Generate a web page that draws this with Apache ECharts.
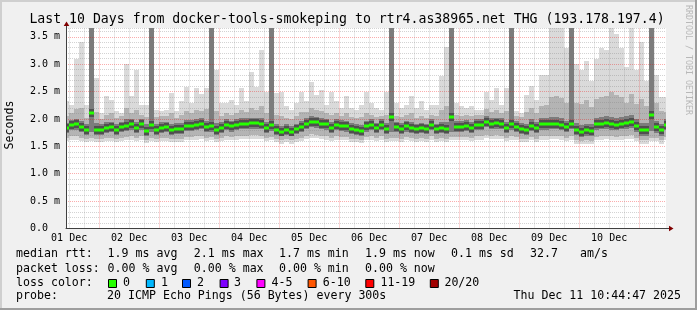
<!DOCTYPE html>
<html><head><meta charset="utf-8">
<script src="https://cdn.jsdelivr.net/npm/echarts@6/dist/echarts.min.js"></script>
<style>html,body{margin:0;padding:0;background:#f0f0f0}#c{width:697px;height:310px}</style>
</head><body><div id="c"></div>
<script>
// ---------------- DATA ----------------
const TITLE = 'Last 10 Days from docker-tools-smokeping to rtr4.as38965.net THG (193.178.197.4)';
// time axis in hours after 01 Dec 00:00
const VIEW_START = 10.746;   // 01 Dec 10:44:47
const VIEW_END = 250.746;    // 11 Dec 10:44:47
const BIN_START = 10;        // first consolidated bin starts at 01 Dec 10:00
const BIN_HOURS = 2;

const medianRtt = [1.83,1.89,1.90,1.85,1.79,2.10,1.79,1.80,1.84,1.85,
1.80,1.86,1.88,1.90,1.84,1.90,1.78,1.89,1.80,1.84,
1.85,1.79,1.82,1.81,1.88,1.88,1.89,1.91,1.86,1.88,
1.79,1.84,1.89,1.87,1.89,1.91,1.91,1.92,1.92,1.91,
1.84,1.89,1.80,1.77,1.80,1.77,1.81,1.86,1.91,1.95,
1.94,1.91,1.90,1.84,1.89,1.88,1.87,1.82,1.80,1.78,
1.87,1.89,1.83,1.89,1.82,2.04,1.85,1.82,1.87,1.84,
1.81,1.83,1.81,1.89,1.81,1.83,1.82,2.04,1.86,1.86,
1.88,1.84,1.89,1.89,1.95,1.91,1.92,1.91,1.84,1.90,
1.86,1.82,1.80,1.88,1.83,1.90,1.90,1.91,1.91,1.89,
1.85,1.91,1.80,1.77,1.79,1.78,1.90,1.91,1.92,1.90,
1.89,1.91,1.92,1.94,1.87,1.79,1.79,2.07,1.85,1.79,1.89];

const smokeMax = [2.32,2.26,3.10,3.41,2.26,3.80,2.75,2.10,2.41,2.35,
2.14,2.10,3.00,2.41,2.90,2.26,2.26,3.80,2.17,2.14,
2.17,2.47,2.14,2.32,2.59,2.30,2.56,2.45,2.56,3.80,
2.90,2.29,2.29,2.35,2.26,2.56,2.32,2.86,2.59,3.26,
2.50,3.80,2.47,2.50,2.23,2.17,2.30,2.50,2.32,2.68,
2.44,2.52,2.26,2.50,2.32,2.20,2.41,2.20,2.17,2.26,
2.50,2.29,2.20,2.17,2.50,3.80,2.29,2.20,2.25,2.41,
2.20,2.32,2.17,2.26,2.26,2.78,3.32,3.80,2.29,2.23,
2.20,2.23,2.17,2.17,2.50,2.35,2.56,2.26,2.56,3.80,
2.15,2.10,2.44,2.60,2.35,2.81,2.81,3.80,3.80,3.80,
3.30,3.80,3.00,2.90,3.05,2.70,3.10,3.30,3.25,3.80,
3.55,3.30,2.95,3.80,2.90,3.40,2.70,3.80,2.80,2.40,2.40];

const smokeP90 = [2.06,2.10,2.18,2.20,2.02,3.80,2.12,2.00,2.08,2.10,
2.02,2.05,2.20,2.10,2.16,2.08,2.04,3.80,2.03,2.06,
2.05,2.10,2.02,2.08,2.15,2.10,2.16,2.14,2.18,3.80,
2.14,2.05,2.10,2.08,2.10,2.16,2.12,2.20,2.16,2.24,
2.10,3.80,2.08,2.06,2.02,2.00,2.06,2.12,2.12,2.20,
2.16,2.14,2.10,2.08,2.10,2.06,2.10,2.04,2.02,2.04,
2.10,2.08,2.04,2.06,2.08,3.80,2.06,2.04,2.08,2.10,
2.02,2.06,2.02,2.08,2.06,2.16,2.24,3.80,2.08,2.06,
2.08,2.06,2.08,2.08,2.18,2.12,2.16,2.10,2.14,3.80,
2.06,2.04,2.12,2.20,2.10,2.24,2.26,2.40,2.42,2.38,
2.30,3.80,2.30,2.28,2.34,2.22,2.36,2.40,2.42,2.50,
2.44,2.40,2.30,2.46,2.28,2.36,2.24,3.80,2.30,2.14,2.12];

const smokeQ3 = [1.93,1.98,2.00,1.96,1.90,3.80,1.92,1.90,1.94,1.95,
1.90,1.95,1.99,1.99,1.95,1.99,1.90,3.80,1.90,1.94,
1.95,1.90,1.92,1.92,1.98,1.98,1.99,2.01,1.97,3.80,
1.92,1.94,1.99,1.97,1.99,2.01,2.01,2.02,2.02,2.02,
1.95,3.80,1.91,1.88,1.90,1.87,1.91,1.96,2.01,2.05,
2.04,2.01,2.00,1.95,1.99,1.98,1.97,1.92,1.90,1.89,
1.97,1.99,1.93,1.99,1.93,3.80,1.95,1.92,1.97,1.95,
1.91,1.93,1.91,1.99,1.91,1.94,1.94,3.80,1.96,1.96,
1.98,1.94,1.99,1.99,2.05,2.01,2.02,2.01,1.95,3.80,
1.96,1.92,1.91,1.99,1.94,2.01,2.02,2.04,2.04,2.01,
1.97,3.80,1.92,1.89,1.91,1.90,2.02,2.03,2.05,2.04,
2.02,2.04,2.05,2.07,2.00,1.92,1.92,3.80,1.97,1.91,1.99];

const smokeQ1 = [1.74,1.79,1.80,1.76,1.70,1.76,1.70,1.71,1.75,1.76,
1.71,1.76,1.78,1.80,1.75,1.80,1.69,1.76,1.71,1.75,
1.76,1.70,1.73,1.72,1.78,1.78,1.79,1.81,1.77,1.77,
1.70,1.75,1.79,1.77,1.79,1.81,1.81,1.82,1.82,1.81,
1.75,1.78,1.71,1.68,1.71,1.68,1.72,1.76,1.81,1.85,
1.84,1.81,1.80,1.75,1.79,1.78,1.77,1.73,1.71,1.69,
1.77,1.79,1.74,1.79,1.73,1.76,1.76,1.73,1.77,1.75,
1.72,1.74,1.72,1.79,1.72,1.74,1.73,1.77,1.77,1.77,
1.78,1.75,1.79,1.79,1.85,1.81,1.82,1.81,1.75,1.80,
1.77,1.73,1.71,1.78,1.74,1.80,1.80,1.81,1.81,1.79,
1.76,1.81,1.70,1.67,1.69,1.68,1.80,1.81,1.82,1.80,
1.79,1.81,1.82,1.84,1.77,1.69,1.69,1.78,1.75,1.69,1.79];

const smokeP10 = [1.66,1.68,1.68,1.66,1.63,1.66,1.63,1.64,1.66,1.66,
1.64,1.66,1.67,1.68,1.66,1.68,1.62,1.66,1.63,1.65,
1.66,1.63,1.64,1.64,1.67,1.67,1.68,1.69,1.66,1.67,
1.63,1.65,1.68,1.67,1.68,1.69,1.69,1.70,1.70,1.69,
1.66,1.67,1.63,1.61,1.63,1.61,1.64,1.66,1.69,1.72,
1.71,1.69,1.68,1.66,1.68,1.67,1.67,1.64,1.63,1.62,
1.67,1.68,1.65,1.68,1.64,1.66,1.66,1.64,1.67,1.65,
1.63,1.65,1.64,1.68,1.63,1.65,1.64,1.67,1.67,1.67,
1.67,1.66,1.68,1.68,1.71,1.69,1.70,1.69,1.66,1.68,
1.67,1.64,1.63,1.67,1.64,1.68,1.68,1.69,1.69,1.68,
1.65,1.68,1.61,1.60,1.61,1.60,1.67,1.68,1.69,1.68,
1.67,1.68,1.69,1.70,1.66,1.61,1.61,1.66,1.65,1.61,1.67];

const smokeMin = [1.60,1.62,1.62,1.60,1.57,1.60,1.57,1.58,1.60,1.60,
1.58,1.60,1.61,1.62,1.60,1.62,1.56,1.60,1.57,1.59,
1.60,1.57,1.58,1.58,1.61,1.61,1.62,1.63,1.60,1.61,
1.57,1.59,1.62,1.61,1.62,1.63,1.63,1.64,1.64,1.63,
1.60,1.61,1.57,1.55,1.57,1.55,1.58,1.60,1.63,1.66,
1.65,1.63,1.62,1.60,1.62,1.61,1.61,1.58,1.57,1.56,
1.61,1.62,1.59,1.62,1.58,1.60,1.60,1.58,1.61,1.59,
1.57,1.59,1.58,1.62,1.57,1.59,1.58,1.61,1.61,1.61,
1.61,1.60,1.62,1.62,1.65,1.63,1.64,1.63,1.60,1.62,
1.61,1.58,1.57,1.61,1.58,1.62,1.62,1.63,1.63,1.62,
1.59,1.62,1.55,1.54,1.55,1.54,1.61,1.62,1.63,1.62,
1.61,1.62,1.63,1.64,1.60,1.55,1.55,1.60,1.59,1.55,1.61];

const dayLabels = ['01 Dec','02 Dec','03 Dec','04 Dec','05 Dec','06 Dec','07 Dec','08 Dec','09 Dec','10 Dec'];
const dayLabelHours = [12,36,60,84,108,132,156,180,204,228];
const majorGridHours = [24,48,72,96,120,144,168,192,216,240];
const minorGridHours = [12,18,30,36,42,54,60,66,78,84,90,102,108,114,126,132,138,150,156,162,174,180,186,198,204,210,222,228,234,246];
const Y_MAX = 3.66;

const rttLabel = 'median rtt:';
const rttStats = ['1.9 ms avg','2.1 ms max','1.7 ms min','1.9 ms now','0.1 ms sd','32.7','am/s'];
const lossLabel = 'packet loss:';
const lossStats = ['0.00 % avg','0.00 % max','0.00 % min','0.00 % now'];
const lossColorLabel = 'loss color:';
const lossColorNames = ['0','1','2','3','4-5','6-10','11-19','20/20'];
const lossColorValues = ['#26ff00','#00b8ff','#0059ff','#7e00ff','#ff00ff','#ff5500','#ff0000','#a10000'];
const probeLabel = 'probe:';
const probeText = '20 ICMP Echo Pings (56 Bytes) every 300s';
const stampText = 'Thu Dec 11 10:44:47 2025';
const watermark = 'RRDTOOL / TOBI OETIKER';
const yTitle = 'Seconds';

// ---------------- LAYOUT ----------------
const FONT = "'DejaVu Sans Mono', monospace";
const G = {left: 66, right: 31, top: 28, bottom: 81.5};
const W = 697, H = 310;
const axisY = H - G.bottom, axisX = G.left + 0.5;

const bins = medianRtt.map((m, i) => [BIN_START + i * BIN_HOURS, smokeMin[i], smokeP10[i], smokeQ1[i], m, smokeQ3[i], smokeP90[i], smokeMax[i]]);

function clipR(x0, y0, x1, y1, cs) {
  return echarts.graphic.clipRectByRect({x: Math.min(x0,x1), y: Math.min(y0,y1), width: Math.abs(x1-x0), height: Math.abs(y1-y0)}, cs);
}

const smokeLayers = [[1, 7, '#dadada'], [2, 6, '#b4b4b4'], [3, 5, '#7c7c7c']];

const chart = echarts.init(document.getElementById('c'), null, {renderer: 'canvas'});

const textStyle = (t, x, y, size, extra) => Object.assign({type: 'text', x, y, silent: true,
  style: Object.assign({text: t, font: size + 'px ' + FONT, fill: '#000', verticalAlign: 'middle', align: 'left'}, extra || {})});

const rowY = [254.3, 268.7, 282.7, 296.3];
const statX = [107.6, 193.8, 279, 365, 451, 530, 580];
const boxX = [108, 145.8, 182, 219.6, 256.4, 307.6, 365.3, 429.8];
const boxLabelX = [123, 161, 197, 234, 271.6, 322.7, 380.4, 444.4];
const LF = 11.6;

const graphics = [
  {type: 'line', shape: {x1: 0, y1: 1, x2: W, y2: 1}, style: {stroke: '#cfcfcf', lineWidth: 2}, silent: true},
  {type: 'line', shape: {x1: 1, y1: 0, x2: 1, y2: H}, style: {stroke: '#cfcfcf', lineWidth: 2}, silent: true},
  {type: 'line', shape: {x1: 0, y1: H-1, x2: W, y2: H-1}, style: {stroke: '#9e9e9e', lineWidth: 2}, silent: true},
  {type: 'line', shape: {x1: W-1, y1: 0, x2: W-1, y2: H}, style: {stroke: '#9e9e9e', lineWidth: 2}, silent: true},
  textStyle(TITLE, 347, 19.4, 13.2, {align: 'center'}),
  Object.assign(textStyle(yTitle, 0, 0, LF, {align: 'center'}), {x: 10, y: 125, rotation: Math.PI/2}),
  Object.assign(textStyle(watermark, 0, 0, 8.3, {align: 'center', fill: '#b8b8b8'}), {x: 688, y: 60, rotation: -Math.PI/2}),
  // axis extensions and arrows
  {type: 'line', shape: {x1: axisX, y1: axisY, x2: axisX, y2: 24}, style: {stroke: '#404040', lineWidth: 1}, silent: true, z: 20},
  {type: 'line', shape: {x1: G.left, y1: axisY, x2: 670, y2: axisY}, style: {stroke: '#404040', lineWidth: 1}, silent: true, z: 20},
  {type: 'polygon', shape: {points: [[axisX, 21.5], [axisX - 2.8, 26], [axisX + 2.8, 26]]}, style: {fill: '#800000'}, silent: true, z: 21},
  {type: 'polygon', shape: {points: [[673.5, axisY], [669, axisY - 2.8], [669, axisY + 2.8]]}, style: {fill: '#800000'}, silent: true, z: 21},
  // legend
  textStyle(rttLabel, 16, rowY[0], LF),
  ...rttStats.map((s, i) => textStyle(s, statX[i], rowY[0], LF)),
  textStyle(lossLabel, 16, rowY[1], LF),
  ...lossStats.map((s, i) => textStyle(s, statX[i], rowY[1], LF)),
  textStyle(lossColorLabel, 16, rowY[2], LF),
  ...lossColorValues.map((c, i) => ({type: 'rect', silent: true, shape: {x: boxX[i] + 0.5, y: 279.5, width: 8, height: 8}, style: {fill: c, stroke: '#000', lineWidth: 1}})),
  ...lossColorNames.map((s, i) => textStyle(s, boxLabelX[i], rowY[2], LF)),
  textStyle(probeLabel, 16, rowY[3], LF),
  textStyle(probeText, 107.1, rowY[3], LF),
  textStyle(stampText, 681, rowY[3], LF, {align: 'right'})
];

const option = {
  backgroundColor: '#f0f0f0',
  animation: false,
  grid: {left: G.left, right: G.right, top: G.top, bottom: G.bottom, show: true, backgroundColor: '#ffffff', borderWidth: 0},
  xAxis: {
    type: 'value', min: VIEW_START, max: VIEW_END, z: 5,
    axisLine: {show: true, lineStyle: {color: '#404040', width: 1}},
    axisTick: {show: false},
    splitLine: {show: false},
    axisLabel: {
      customValues: dayLabelHours, margin: 5, fontFamily: FONT, fontSize: 10, color: '#000',
      formatter: v => { const i = dayLabelHours.indexOf(Math.round(v)); return i >= 0 ? dayLabels[i] : ''; }
    }
  },
  yAxis: {
    type: 'value', min: 0, max: Y_MAX, interval: 0.1, z: 5,
    axisLine: {show: true, lineStyle: {color: '#404040', width: 1}},
    axisTick: {show: false},
    axisLabel: {
      margin: 6, fontFamily: FONT, fontSize: 10, color: '#000', showMaxLabel: false, padding: [3, 0, 0, 0],
      formatter: v => { const r = Math.round(v * 10); if (r % 5) return ''; return r === 0 ? '0.0  ' : (r / 10).toFixed(1) + ' m'; }
    },
    splitLine: {show: true, lineStyle: {
      color: ['rgba(240,0,0,0.32)', 'rgba(130,130,130,0.35)', 'rgba(130,130,130,0.35)', 'rgba(130,130,130,0.35)', 'rgba(130,130,130,0.35)'],
      type: [1, 1], width: 1}}
  },
  graphic: graphics,
  series: [
    {
      name: 'smoke', type: 'custom', z: 2, clip: true, silent: true,
      data: bins, encode: {x: 0, y: [1, 7]},
      renderItem(params, api) {
        const t0 = api.value(0), t1 = t0 + BIN_HOURS;
        const children = [];
        smokeLayers.forEach(([a, b, c]) => {
          const p0 = api.coord([t0, api.value(b)]);
          const p1 = api.coord([t1, api.value(a)]);
          const r = clipR(Math.round(p0[0]), Math.round(p0[1]), Math.round(p1[0]), Math.round(p1[1]), params.coordSys);
          if (r) children.push({type: 'rect', shape: r, style: {fill: c}});
        });
        return {type: 'group', children};
      }
    },
    {
      name: 'minorGrid', type: 'custom', z: 6, silent: true,
      data: minorGridHours.map(h => [h]), encode: {x: 0},
      renderItem(params, api) {
        const p0 = api.coord([api.value(0), 0]), p1 = api.coord([api.value(0), Y_MAX]);
        const x = Math.round(p0[0]) + 0.5;
        return {type: 'line', shape: {x1: x, y1: p0[1], x2: x, y2: p1[1]}, style: {stroke: 'rgba(130,130,130,0.35)', lineWidth: 1, lineDash: [1, 1]}};
      }
    },
    {
      name: 'majorGrid', type: 'custom', z: 6, silent: true,
      data: majorGridHours.map(h => [h]), encode: {x: 0},
      renderItem(params, api) {
        const p0 = api.coord([api.value(0), 0]), p1 = api.coord([api.value(0), Y_MAX]);
        const x = Math.round(p0[0]) + 0.5;
        return {type: 'line', shape: {x1: x, y1: p0[1], x2: x, y2: p1[1]}, style: {stroke: 'rgba(240,0,0,0.32)', lineWidth: 1, lineDash: [1, 1]}};
      }
    },
    {
      name: 'median', type: 'custom', z: 10, clip: true, silent: true,
      data: bins, encode: {x: 0, y: 4},
      renderItem(params, api) {
        const t0 = api.value(0), t1 = t0 + BIN_HOURS;
        const p0 = api.coord([t0, api.value(4)]);
        const p1 = api.coord([t1, api.value(4)]);
        const x0 = Math.round(p0[0]), x1 = Math.round(p1[0]), yc = Math.round(p0[1]);
        const children = [];
        const core = clipR(x0, yc - 4, x1, yc + 4, params.coordSys);
        if (core) children.push({type: 'rect', shape: core, style: {fill: '#505050'}});
        const r = clipR(x0, yc - 1.5, x1, yc + 1.5, params.coordSys);
        if (r) children.push({type: 'rect', shape: r, style: {fill: '#26ff00'}});
        return {type: 'group', children};
      }
    }
  ]
};
chart.setOption(option);
</script></body></html>
